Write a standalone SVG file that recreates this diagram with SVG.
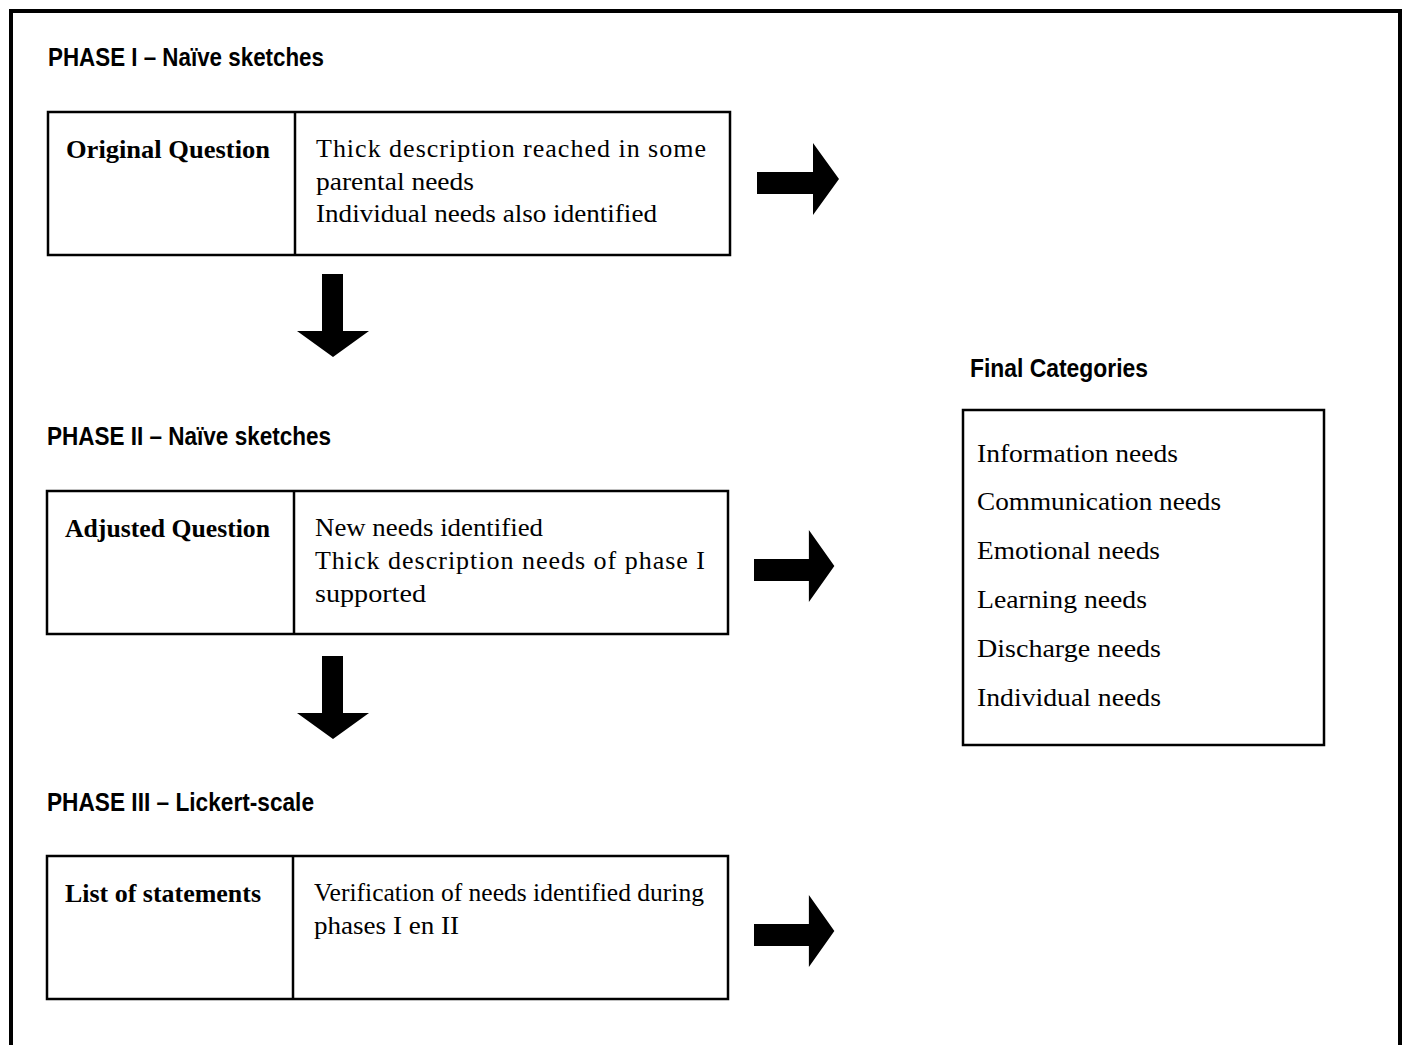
<svg xmlns="http://www.w3.org/2000/svg" width="1410" height="1045" viewBox="0 0 1410 1045">
<style>
.hd{font-family:"Liberation Sans",Arial,sans-serif;font-weight:bold;font-size:25px;fill:#000}
.bl{font-family:"Liberation Serif","Times New Roman",serif;font-weight:bold;font-size:26px;fill:#000}
.tx{font-family:"Liberation Serif","Times New Roman",serif;font-size:26px;fill:#000}
.box{fill:#fff;stroke:#000;stroke-width:2.5}
.div{stroke:#000;stroke-width:2.5}
.arr{fill:#000}
</style>
<defs>
<path id="rarrow" d="M0,-7 L56,-7 L56,-36 L82,0 L56,36 L56,15 L0,15 Z"/>
<path id="darrow" d="M-11,0 L10,0 L10,57 L36,57 L0,83 L-36,57 L-11,57 Z"/>
</defs>
<rect width="1410" height="1045" fill="#fff"/>
<path d="M11,1045 L11,11 L1400,11 L1400,1045" fill="none" stroke="#000" stroke-width="4"/>

<text class="hd" x="48" y="66" textLength="276" lengthAdjust="spacingAndGlyphs">PHASE I – Naïve sketches</text>
<text class="hd" x="47" y="445" textLength="284" lengthAdjust="spacingAndGlyphs">PHASE II – Naïve sketches</text>
<text class="hd" x="47" y="811" textLength="267" lengthAdjust="spacingAndGlyphs">PHASE III – Lickert-scale</text>
<text class="hd" x="970" y="377" textLength="178" lengthAdjust="spacingAndGlyphs">Final Categories</text>

<g id="node-phase1">
<rect class="box" x="48" y="112" width="682" height="143"/>
<line class="div" x1="295" y1="112" x2="295" y2="255"/>
<text class="bl" x="66" y="158" textLength="204" lengthAdjust="spacingAndGlyphs">Original Question</text>
<text class="tx" x="316" y="157" textLength="390" lengthAdjust="spacing">Thick description reached in some</text>
<text class="tx" x="316" y="190" textLength="158" lengthAdjust="spacingAndGlyphs">parental needs</text>
<text class="tx" x="316" y="222" textLength="341" lengthAdjust="spacingAndGlyphs">Individual needs also identified</text>
</g>

<g id="node-phase2">
<rect class="box" x="47" y="491" width="681" height="143"/>
<line class="div" x1="294" y1="491" x2="294" y2="634"/>
<text class="bl" x="65" y="537" textLength="205" lengthAdjust="spacingAndGlyphs">Adjusted Question</text>
<text class="tx" x="315" y="536" textLength="228" lengthAdjust="spacingAndGlyphs">New needs identified</text>
<text class="tx" x="315" y="569" textLength="390" lengthAdjust="spacing">Thick description needs of phase I</text>
<text class="tx" x="315" y="602" textLength="111" lengthAdjust="spacingAndGlyphs">supported</text>
</g>

<g id="node-phase3">
<rect class="box" x="47" y="856" width="681" height="143"/>
<line class="div" x1="293" y1="856" x2="293" y2="999"/>
<text class="bl" x="65" y="902" textLength="196" lengthAdjust="spacingAndGlyphs">List of statements</text>
<text class="tx" x="314" y="901" textLength="390" lengthAdjust="spacingAndGlyphs">Verification of needs identified during</text>
<text class="tx" x="314" y="934" textLength="145" lengthAdjust="spacingAndGlyphs">phases I en II</text>
</g>

<g id="node-final">
<rect class="box" x="963" y="410" width="361" height="335"/>
<text class="tx" x="977" y="462" textLength="201" lengthAdjust="spacingAndGlyphs">Information needs</text>
<text class="tx" x="977" y="510" textLength="244" lengthAdjust="spacingAndGlyphs">Communication needs</text>
<text class="tx" x="977" y="559" textLength="183" lengthAdjust="spacingAndGlyphs">Emotional needs</text>
<text class="tx" x="977" y="608" textLength="170" lengthAdjust="spacingAndGlyphs">Learning needs</text>
<text class="tx" x="977" y="657" textLength="184" lengthAdjust="spacingAndGlyphs">Discharge needs</text>
<text class="tx" x="977" y="706" textLength="184" lengthAdjust="spacingAndGlyphs">Individual needs</text>
</g>

<g id="connectors">
<use href="#rarrow" class="arr" transform="translate(757,179)"/>
<use href="#rarrow" class="arr" transform="translate(754,566) scale(0.98,1)"/>
<use href="#rarrow" class="arr" transform="translate(754,931) scale(0.98,1)"/>
<use href="#darrow" class="arr" transform="translate(333,274)"/>
<use href="#darrow" class="arr" transform="translate(333,656)"/>
</g>
</svg>
